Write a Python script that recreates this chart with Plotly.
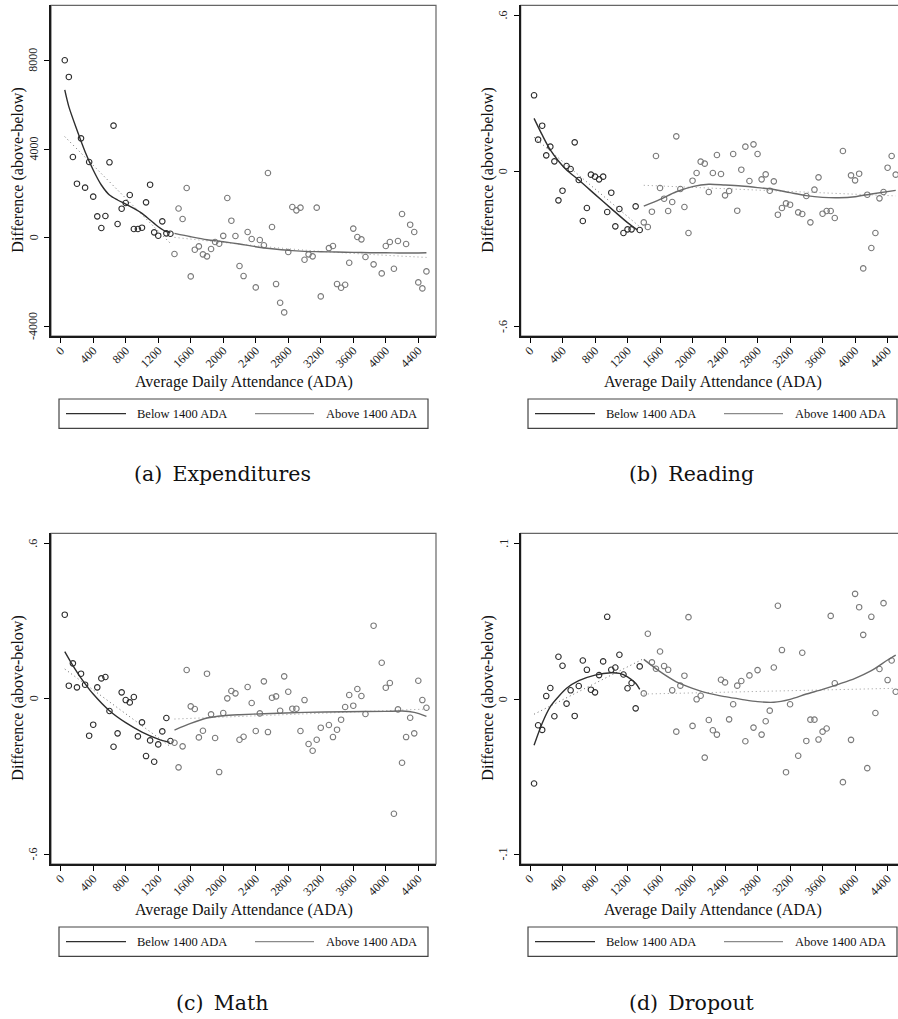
import plotly.graph_objects as go

# ---------------- data: binned ADA (bin centres) ----------------
ada_below = [50, 100, 150, 200, 250, 300, 350, 400, 450, 500, 550, 600, 650, 700,
             750, 800, 850, 900, 950, 1000, 1050, 1100, 1150, 1200, 1250, 1300, 1350]

ada_above = [1400, 1450, 1500, 1550, 1600, 1650, 1700, 1750, 1800, 1850, 1900, 1950,
             2000, 2050, 2100, 2150, 2200, 2250, 2300, 2350, 2400, 2450, 2500, 2550,
             2600, 2650, 2700, 2750, 2800, 2850, 2900, 2950, 3000, 3050, 3100, 3150,
             3200, 3300, 3350, 3400, 3450, 3500, 3550, 3600, 3650, 3700, 3750, 3850,
             3950, 4000, 4050, 4100, 4150, 4200, 4250, 4300, 4350, 4400, 4450, 4500]

# (a) Expenditures
exp_below = [8000, 7250, 3640, 2436, 4480, 2256, 3414, 1850, 962, 436, 977, 3400, 5053,
             617, 1308, 1564, 1925, 391, 391, 451, 1594, 2391, 241, 90, 737, 196, 180]
exp_above = [-737, 1315, 842, 2241, -1745, -541, -391, -752, -842, -511, -196, -271,
             83, 1790, 767, 75, -1278, -1730, 256, -60, -2241, -105, -340, 2918,
             481, -2091, -2933, -3369, -647, 1384, 1233, 1354, -993, -752, -842, 1354,
             -2647, -470, -376, -2091, -2256, -2121, -1128, 410, 30, -75, -872, -1203,
             -1609, -376, -196, -1399, -150, 1068, -286, 587, 256, -2015, -2286, -1519]

# (b) Reading
read_below = [0.2917, 0.1208, 0.1747, 0.0604, 0.0938, 0.0373, -0.1131, -0.0758, 0.0193,
              0.0077, 0.1105, -0.0347, -0.1927, -0.1426, -0.0141, -0.0218, -0.0321,
              -0.0218, -0.158, -0.0835, -0.2133, -0.1465, -0.239, -0.2248, -0.2248,
              -0.1362, -0.2274]
read_above = [-0.1979, -0.2158, -0.1567, 0.0578, -0.0655, -0.1066, -0.1542, -0.1195,
              0.1336, -0.0694, -0.1388, -0.239, -0.0373, -0.0077, 0.036, 0.0283,
              -0.0809, -0.0077, 0.0617, -0.0116, -0.0938, -0.0771, 0.0655, -0.1529,
              0.0051, 0.0938, -0.0385, 0.1028, 0.0655, -0.0321, -0.0128, -0.0758,
              -0.0398, -0.1683, -0.1426, -0.1246, -0.1298, -0.1593, -0.1657, -0.0964,
              -0.1979, -0.0719, -0.0244, -0.1645, -0.1542, -0.1542, -0.1812, 0.0771,
              -0.0167, -0.036, -0.0103, -0.3752, -0.0912, -0.2968, -0.239, -0.1054,
              -0.0809, 0.0128, 0.0578, -0.0141]

# (c) Math
math_below = [0.3245, 0.0502, 0.1365, 0.0438, 0.0966, 0.0541, -0.1429, -0.1004, 0.0438,
              0.0785, 0.0837, -0.0476, -0.1854, -0.1339, 0.0245, -0.0052, -0.0142,
              0.0064, -0.1455, -0.0914, -0.2215, -0.161, -0.2434, -0.1764, -0.1262,
              -0.0747, -0.1635]
math_above = [-0.17, -0.2652, -0.184, 0.1107, -0.0296, -0.0399, -0.1494, -0.1236,
              0.0966, -0.0605, -0.1519, -0.2833, -0.0554, 0.0013, 0.0296, 0.0206,
              -0.1584, -0.1468, 0.0451, -0.0167, -0.1249, -0.0567, 0.067, -0.1288,
              0.0039, 0.009, -0.0464, 0.0863, 0.027, -0.0386, -0.0386, -0.1249,
              -0.0052, -0.1751, -0.2009, -0.1584, -0.112, -0.1017, -0.1481, -0.1197,
              -0.0811, -0.0322, 0.0142, -0.027, 0.0373, 0.0103, -0.0592, 0.282,
              0.139, 0.0425, 0.0605, -0.4442, -0.0412, -0.2472, -0.1481, -0.0734,
              -0.1339, 0.0695, -0.0052, -0.0348]

# (d) Dropout
drop_below = [-0.0544, -0.0169, -0.0199, 0.0019, 0.0071, -0.0111, 0.0272, 0.0214, -0.003,
              0.0056, -0.0109, 0.0084, 0.0248, 0.0188, 0.006, 0.0043, 0.0154, 0.0242,
              0.0529, 0.0188, 0.0203, 0.0285, 0.0158, 0.0069, 0.0103, -0.006, 0.021]
drop_above = [0.0036, 0.042, 0.0236, 0.0195, 0.0306, 0.0212, 0.0188, 0.0056, -0.021,
              0.0086, 0.015, 0.0527, -0.0173, -0.0002, 0.0021, -0.0377, -0.0135,
              -0.0201, -0.0229, 0.0124, 0.0107, -0.0131, -0.0034, 0.0086, 0.0116,
              -0.0272, 0.0152, -0.0184, 0.0186, -0.0229, -0.0143, -0.0075, 0.0203,
              0.06, 0.0315, -0.0471, -0.0034, -0.0365, 0.0298, -0.027, -0.0133,
              -0.0133, -0.0261, -0.021, -0.019, 0.0535, 0.0101, -0.0535, -0.0263,
              0.0677, 0.0591, 0.0413, -0.0445, 0.0529, -0.009, 0.0193, 0.0617,
              0.0122, 0.0248, 0.0047]

# ---------------- smoothed fits (solid) and simple fits (dotted) ----------------
exp_fit_below_x = [50, 100, 200, 300, 400, 500, 600, 700, 800, 900, 1000, 1100, 1200, 1300, 1350]
exp_fit_below_y = [6663, 5911, 4858, 3880, 3053, 2376, 1925, 1700, 1519, 1323, 1098, 797, 496, 271, 241]
exp_fit_above_x = [1400, 1600, 1800, 2000, 2200, 2400, 2600, 2800, 3000, 3200, 3400, 3600, 3800, 4000, 4200, 4500]
exp_fit_above_y = [196, 45, -90, -180, -286, -406, -496, -571, -617, -632, -647, -662, -677, -677, -692, -677]
exp_lin_below_x = [50, 1350]
exp_lin_below_y = [4557, -256]
exp_lin_above_x = [1400, 3000, 4500]
exp_lin_above_y = [15, -560, -890]

read_fit_below_x = [50, 150, 250, 350, 450, 600, 800, 1000, 1200, 1320]
read_fit_below_y = [0.203, 0.139, 0.081, 0.0385, 0.0039, -0.0347, -0.09, -0.145, -0.199, -0.227]
read_fit_above_x = [1400, 1600, 1800, 2000, 2200, 2400, 2600, 2800, 3000, 3200, 3400, 3600, 3800, 4000, 4200, 4500]
read_fit_above_y = [-0.135, -0.109, -0.080, -0.060, -0.051, -0.054, -0.058, -0.064, -0.071,
                    -0.0835, -0.095, -0.1015, -0.103, -0.099, -0.0887, -0.0745]
read_lin_below_x = [50, 1350]
read_lin_below_y = [0.13, -0.215]
read_lin_above_x = [1400, 4500]
read_lin_above_y = [-0.055, -0.096]

math_fit_below_x = [50, 150, 250, 400, 600, 800, 1000, 1200, 1340]
math_fit_below_y = [0.1816, 0.1275, 0.0798, 0.018, -0.0464, -0.0927, -0.1288, -0.1558, -0.1687]
math_fit_above_x = [1400, 1600, 1800, 2000, 2200, 2500, 3000, 3500, 4000, 4200, 4350, 4500]
math_fit_above_y = [-0.121, -0.0953, -0.0747, -0.0657, -0.0618, -0.058, -0.0528, -0.0502,
                    -0.0489, -0.0476, -0.0528, -0.0682]
math_lin_below_x = [50, 1350]
math_lin_below_y = [0.1146, -0.185]
math_lin_above_x = [1400, 4500]
math_lin_above_y = [-0.0785, -0.04]

drop_fit_below_x = [50, 150, 250, 350, 450, 600, 800, 1000, 1100, 1200, 1300, 1350]
drop_fit_below_y = [-0.0298, -0.0156, -0.0049, 0.0015, 0.0069, 0.0118, 0.0154, 0.0169,
                    0.0165, 0.0143, 0.0101, 0.0062]
drop_fit_above_x = [1400, 1600, 1800, 2000, 2200, 2400, 2600, 2800, 3000, 3200, 3400, 3600, 3800, 4000, 4200, 4400, 4500]
drop_fit_above_y = [0.0255, 0.0176, 0.0111, 0.0069, 0.0036, 0.0015, -0.0002, -0.0017, -0.0021,
                    -0.0002, 0.0032, 0.0062, 0.0096, 0.0133, 0.0182, 0.0251, 0.0283]
drop_lin_below_x = [50, 1400]
drop_lin_below_y = [-0.0098, 0.026]
drop_lin_above_x = [1400, 4500]
drop_lin_above_y = [0.0032, 0.0069]

x_ticks = [0, 400, 800, 1200, 1600, 2000, 2400, 2800, 3200, 3600, 4000, 4400]
captions = ["(a)\u2002Expenditures", "(b)\u2002Reading", "(c)\u2002Math", "(d)\u2002Dropout"]

# ---------------- styling ----------------
W, H = 898, 1019
SERIF = "Liberation Serif"
DARK = "#2e2e2e"
GREY = "#7a7a7a"


def fx(px):
    return px / W


def fy(py):
    return 1 - py / H


panels = [
    dict(below=exp_below, above=exp_above,
         fb=(exp_fit_below_x, exp_fit_below_y), fa=(exp_fit_above_x, exp_fit_above_y),
         lb=(exp_lin_below_x, exp_lin_below_y), la=(exp_lin_above_x, exp_lin_above_y),
         left=51, right=436, top=5.3, bottom=336, xr=[-119.4, 4617.8], yr=[-4433, 10480],
         yt=[-4000, 0, 4000, 8000], ytt=["-4000", "0", "4000", "8000"]),
    dict(below=read_below, above=read_above,
         fb=(read_fit_below_x, read_fit_below_y), fa=(read_fit_above_x, read_fit_above_y),
         lb=(read_lin_below_x, read_lin_below_y), la=(read_lin_above_x, read_lin_above_y),
         left=520.7, right=898, top=5.3, bottom=336, xr=[-114.4, 4528], yr=[-0.6358, 0.6386],
         yt=[-0.6, 0, 0.6], ytt=["-.6", "0", ".6"]),
    dict(below=math_below, above=math_above,
         fb=(math_fit_below_x, math_fit_below_y), fa=(math_fit_above_x, math_fit_above_y),
         lb=(math_lin_below_x, math_lin_below_y), la=(math_lin_above_x, math_lin_above_y),
         left=51, right=436, top=533.3, bottom=864, xr=[-119.4, 4617.8], yr=[-0.6384, 0.6388],
         yt=[-0.6, 0, 0.6], ytt=["-.6", "0", ".6"]),
    dict(below=drop_below, above=drop_above,
         fb=(drop_fit_below_x, drop_fit_below_y), fa=(drop_fit_above_x, drop_fit_above_y),
         lb=(drop_lin_below_x, drop_lin_below_y), la=(drop_lin_above_x, drop_lin_above_y),
         left=520.7, right=898, top=533.3, bottom=864, xr=[-114.4, 4528], yr=[-0.1062, 0.10666],
         yt=[-0.1, 0, 0.1], ytt=["-.1", "0", ".1"]),
]

fig = go.Figure()
layout = dict(width=W, height=H, margin=dict(l=0, r=0, t=0, b=0),
              paper_bgcolor="white", plot_bgcolor="white", showlegend=False,
              font=dict(family=SERIF, color="black"))
shapes = []
annotations = []

for i, p in enumerate(panels):
    n = "" if i == 0 else str(i + 1)
    xa, ya = "x" + n, "y" + n

    # dotted simple fits
    for (xs, ys), col in ((p["lb"], "#6a6a6a"), (p["la"], "#9a9a9a")):
        fig.add_trace(go.Scatter(x=xs, y=ys, mode="lines", xaxis=xa, yaxis=ya,
                                 line=dict(color=col, width=1, dash="1px,3px", shape="spline"),
                                 hoverinfo="skip"))
    # scatter points
    fig.add_trace(go.Scatter(x=ada_below, y=p["below"], mode="markers", xaxis=xa, yaxis=ya,
                             marker=dict(symbol="circle-open", size=5.5, color=DARK,
                                         line=dict(width=1.1, color=DARK))))
    fig.add_trace(go.Scatter(x=ada_above, y=p["above"], mode="markers", xaxis=xa, yaxis=ya,
                             marker=dict(symbol="circle-open", size=5.5, color=GREY,
                                         line=dict(width=1.1, color=GREY))))
    # smoothed fits
    fig.add_trace(go.Scatter(x=p["fb"][0], y=p["fb"][1], mode="lines", xaxis=xa, yaxis=ya,
                             line=dict(color=DARK, width=1.4, shape="spline", smoothing=0.8)))
    fig.add_trace(go.Scatter(x=p["fa"][0], y=p["fa"][1], mode="lines", xaxis=xa, yaxis=ya,
                             line=dict(color="#6a6a6a", width=1.4, shape="spline", smoothing=0.8)))

    layout["xaxis" + n] = dict(
        domain=[fx(p["left"]), fx(p["right"])], anchor=ya, range=p["xr"],
        tickvals=x_ticks, ticktext=[str(t) for t in x_ticks], tickangle=-45,
        ticks="outside", ticklen=5, tickwidth=1, tickcolor="black", ticklabelstandoff=-4,
        showline=True, linecolor="#1a1a1a", linewidth=1.6, showgrid=False, zeroline=False,
        tickfont=dict(family=SERIF, size=12, color="#222"))
    layout["yaxis" + n] = dict(
        domain=[fy(p["bottom"]), fy(p["top"])], anchor=xa, range=p["yr"],
        tickvals=p["yt"], showticklabels=False,
        ticks="outside", ticklen=5, tickwidth=1, tickcolor="black",
        showline=True, linecolor="#1a1a1a", linewidth=1.6, showgrid=False, zeroline=False)

    # vertical y tick labels
    for v, t in zip(p["yt"], p["ytt"]):
        annotations.append(dict(text=t, xref="paper", yref=ya, x=fx(p["left"] - 17.5), y=v,
                                showarrow=False, textangle=-90, xanchor="center",
                                yanchor="middle",
                                font=dict(family=SERIF, size=12, color="#222")))

    # plot-region frame (top / right)
    x1 = 1 if i % 2 == 0 else (905 - 520.7) / (898 - 520.7)
    shapes.append(dict(type="rect", xref=xa + " domain", yref=ya + " domain",
                       x0=0, x1=x1, y0=0, y1=1, line=dict(color="#666", width=1.2),
                       layer="below"))

    # axis titles
    cx = (p["left"] + (436 if i % 2 == 0 else 905)) / 2
    cy = (p["top"] + p["bottom"]) / 2
    ytitle_x = 18 if i % 2 == 0 else 488
    annotations.append(dict(text="Average Daily Attendance (ADA)", xref="paper", yref="paper",
                            x=fx(cx), y=fy(p["bottom"] + 46), showarrow=False,
                            xanchor="center", yanchor="middle",
                            font=dict(family=SERIF, size=16, color="#111")))
    annotations.append(dict(text="Difference (above-below)", xref="paper", yref="paper",
                            x=fx(ytitle_x), y=fy(cy), showarrow=False, textangle=-90,
                            xanchor="center", yanchor="middle",
                            font=dict(family=SERIF, size=16, color="#111")))

    # legend box
    lx0 = 59 if i % 2 == 0 else 528
    ly0 = p["bottom"] + 63
    ly1 = ly0 + 29.3
    lyc = (ly0 + ly1) / 2
    shapes.append(dict(type="rect", xref="paper", yref="paper",
                       x0=fx(lx0), x1=fx(lx0 + 369), y0=fy(ly1), y1=fy(ly0),
                       line=dict(color="#444", width=1.2)))
    shapes.append(dict(type="line", xref="paper", yref="paper",
                       x0=fx(lx0 + 7), x1=fx(lx0 + 67), y0=fy(lyc), y1=fy(lyc),
                       line=dict(color=DARK, width=1.4)))
    shapes.append(dict(type="line", xref="paper", yref="paper",
                       x0=fx(lx0 + 196), x1=fx(lx0 + 255), y0=fy(lyc), y1=fy(lyc),
                       line=dict(color="#8a8a8a", width=1.4)))
    annotations.append(dict(text="Below 1400 ADA", xref="paper", yref="paper",
                            x=fx(lx0 + 76), y=fy(lyc), showarrow=False,
                            xanchor="left", yanchor="middle",
                            font=dict(family=SERIF, size=12.5, color="#111")))
    annotations.append(dict(text="Above 1400 ADA", xref="paper", yref="paper",
                            x=fx(lx0 + 265), y=fy(lyc), showarrow=False,
                            xanchor="left", yanchor="middle",
                            font=dict(family=SERIF, size=12.5, color="#111")))

    # sub-figure caption
    cap_x = 222.3 if i % 2 == 0 else 691.7
    cap_y = 474 if i < 2 else 1002.5
    annotations.append(dict(text=captions[i], xref="paper", yref="paper",
                            x=fx(cap_x), y=fy(cap_y), showarrow=False,
                            xanchor="center", yanchor="middle",
                            font=dict(family="DejaVu Serif", size=20.5, color="#111")))

layout["shapes"] = shapes
layout["annotations"] = annotations
fig.update_layout(**layout)
fig.write_html("out.html")
